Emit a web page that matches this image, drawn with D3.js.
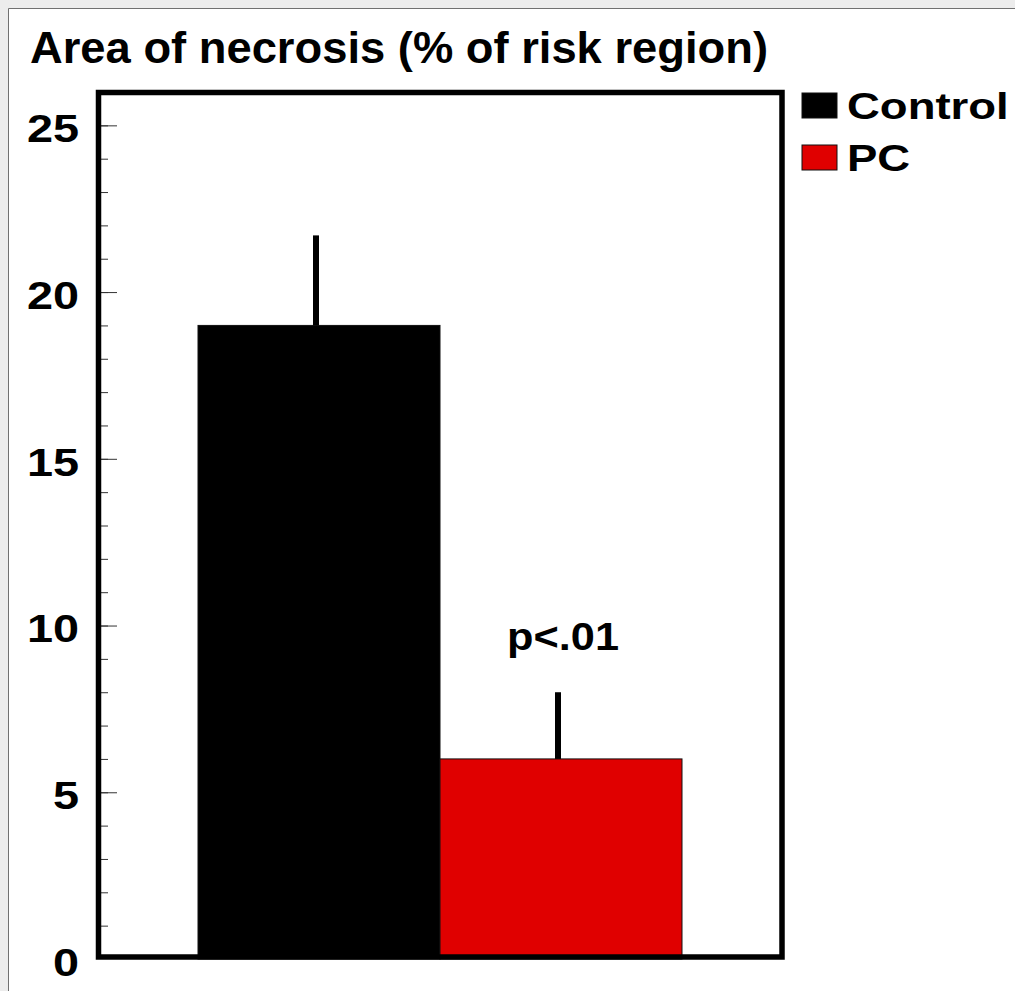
<!DOCTYPE html>
<html>
<head>
<meta charset="utf-8">
<script src="https://cdn.jsdelivr.net/npm/d3@7"></script>
<style>
  body { margin: 0; background: #ececec; }
  svg { display: block; }
  text { font-family: "Liberation Sans", Arial, sans-serif; font-weight: bold; fill: #000; }
</style>
</head>
<body>
<div id="chartRegion"></div>
<script>
/* chart values */
var groups = ["Control", "PC"];
var means = [19, 6];
var errors = [2.7, 2];
var colors = ["#000000", "#e00000"];
var majorTicks = [0, 5, 10, 15, 20, 25];
var minorTicks = d3.range(1, 26);
var title = "Area of necrosis (% of risk region)";
var pLabel = "p<.01";

var W = 1015, H = 991;

var svg = d3.select("#chartRegion").append("svg").attr("width", W).attr("height", H);

/* page background, white sheet with a grey edge on left and top */
svg.append("rect").attr("width", W).attr("height", H).attr("fill", "#ececec");
svg.append("rect").attr("x", 9).attr("y", 9).attr("width", W - 9).attr("height", H - 9).attr("fill", "#fff");
svg.append("path").attr("d", "M8.5," + H + "V8.5H" + W).attr("fill", "none").attr("stroke", "#707070");

/* scales */
var y = d3.scaleLinear().domain([0, 26]).range([959, 92]);
var x = d3.scaleBand().domain(groups).range([198, 682]).paddingInner(0).paddingOuter(0);

/* bars */
svg.selectAll("rect.bar").data(groups).enter().append("rect")
  .attr("class", "bar")
  .attr("x", function(d) { return x(d); })
  .attr("width", x.bandwidth())
  .attr("y", function(d, i) { return y(means[i]); })
  .attr("height", function(d, i) { return y(0) - y(means[i]); })
  .attr("fill", function(d, i) { return colors[i]; })
  .attr("stroke", "#111").attr("stroke-width", 1);

/* error bars (upper only) */
svg.selectAll("line.err").data(groups).enter().append("line")
  .attr("class", "err")
  .attr("x1", function(d) { return x(d) + x.bandwidth() / 2 - 3; })
  .attr("x2", function(d) { return x(d) + x.bandwidth() / 2 - 3; })
  .attr("y1", function(d, i) { return y(means[i]); })
  .attr("y2", function(d, i) { return y(means[i] + errors[i]); })
  .attr("stroke", "#000").attr("stroke-width", 6);

/* ticks inside the left frame */
var tickG = svg.append("g").attr("transform", "translate(101,0)");
tickG.call(d3.axisRight(y).tickValues(minorTicks).tickSize(7).tickFormat(""));
tickG.append("g").call(d3.axisRight(y).tickValues(majorTicks.filter(function(v) { return v > 0; })).tickSize(16).tickFormat(""));
tickG.selectAll(".domain").remove();
tickG.selectAll(".tick line").attr("stroke", "#333").attr("stroke-width", 1);

/* y labels */
var labG = svg.append("g").attr("transform", "translate(79,0)");
labG.call(d3.axisLeft(y).tickValues(majorTicks).tickSize(0).tickPadding(0));
labG.select(".domain").remove();
labG.selectAll(".tick text")
  .attr("font-size", 39).attr("font-family", null).attr("fill", "#000")
  .attr("dy", "0.42em")
  .attr("transform", "scale(1.2,1)");

/* frame */
svg.append("rect")
  .attr("x", 98.5).attr("y", 92.5).attr("width", 683.5).attr("height", 864.5)
  .attr("fill", "none").attr("stroke", "#000").attr("stroke-width", 5.5);

/* title */
svg.append("text").attr("x", 30).attr("y", 63).attr("font-size", 44)
  .attr("textLength", 738).attr("lengthAdjust", "spacingAndGlyphs").text(title);

/* significance label */
svg.append("text")
  .attr("transform", "translate(" + (x("PC") + x.bandwidth() / 2 + 2) + "," + (y(means[1] + errors[1]) - 42) + ") scale(1.14,1)")
  .attr("text-anchor", "middle").attr("font-size", 38).text(pLabel);

/* legend */
var leg = svg.selectAll("g.leg").data(groups).enter().append("g")
  .attr("class", "leg")
  .attr("transform", function(d, i) { return "translate(802," + (93 + i * 52) + ")"; });
leg.append("rect").attr("width", 35).attr("height", 25)
  .attr("fill", function(d, i) { return colors[i]; })
  .attr("stroke", "#111").attr("stroke-width", 1);
leg.append("text")
  .attr("transform", "translate(45,26) scale(1.23,1)")
  .attr("font-size", 37).text(function(d) { return d; });
</script>
</body>
</html>
